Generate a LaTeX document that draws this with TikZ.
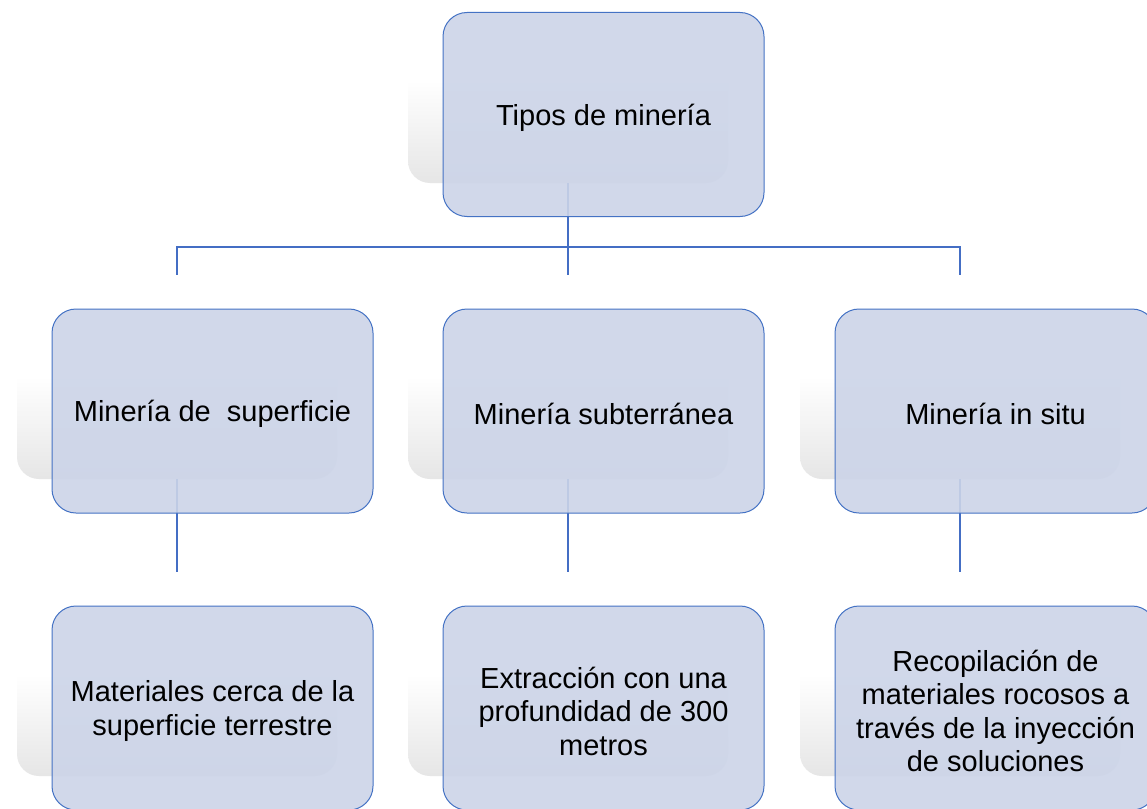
\documentclass[tikz,border=0pt]{standalone}
\usepackage{fontspec}
\setmainfont{Liberation Sans}
\definecolor{boxfill}{RGB}{204,212,232}
\definecolor{boxline}{RGB}{68,114,196}
\definecolor{connline}{RGB}{68,110,196}
\begin{document}
\begin{tikzpicture}[x=1pt,y=-1pt,
  shadowbox/.style={rectangle, rounded corners=22pt, minimum width=320pt, minimum height=204pt, inner sep=0pt,
    top color=white, bottom color=black!10, middle color=white},
  mainbox/.style={rectangle, rounded corners=24pt, minimum width=321pt, minimum height=204pt, inner sep=0pt,
    draw=boxline, line width=1pt, fill=boxfill, fill opacity=0.9},
  boxtext/.style={align=center, inner sep=0pt, font=\fontsize{29}{33.5}\selectfont, yshift=-3pt},
  conn/.style={draw=connline, line width=1.6pt}]
\clip (0,0) rectangle (1147,808);
\fill[white] (0,0) rectangle (1147,808);
% shadows
\node[shadowbox] (s0) at (568,81) {};
\node[shadowbox] (s1) at (177,377) {};
\node[shadowbox] (s2) at (568,377) {};
\node[shadowbox] (s3) at (960,377) {};
\node[shadowbox] (s4) at (177,674) {};
\node[shadowbox] (s5) at (568,674) {};
\node[shadowbox] (s6) at (960,674) {};
% connectors
\coordinate (j) at (568,247);
\draw[conn] (s0.south) -- (j);
\draw[conn] (s1.north) |- (j) -| (s3.north);
\draw[conn] (j) -- (s2.north);
\draw[conn] (s1.south) -- (s4.north);
\draw[conn] (s2.south) -- (s5.north);
\draw[conn] (s3.south) -- (s6.north);
% boxes
\node[mainbox] (b0) at (603.5,114.5) {};
\node[mainbox] (b1) at (212.5,411) {};
\node[mainbox] (b2) at (603.5,411) {};
\node[mainbox] (b3) at (995.5,411) {};
\node[mainbox] (b4) at (212.5,708) {};
\node[mainbox] (b5) at (603.5,708) {};
\node[mainbox] (b6) at (995.5,708) {};
% texts
\node[boxtext] (t0) at (b0.center) {Tipos de minería};
\node[boxtext] (t1) at (b1.center) {Minería de\ \ superficie};
\node[boxtext] (t2) at (b2.center) {Minería subterránea};
\node[boxtext] (t3) at (b3.center) {Minería in situ};
\node[boxtext] (t4) at (b4.center) {Materiales cerca de la\\superficie terrestre};
\node[boxtext] (t5) at (b5.center) {Extracción con una\\profundidad de 300\\metros};
\node[boxtext] (t6) at (b6.center) {Recopilación de\\materiales rocosos a\\través de la inyección\\de soluciones};
\end{tikzpicture}
\end{document}
